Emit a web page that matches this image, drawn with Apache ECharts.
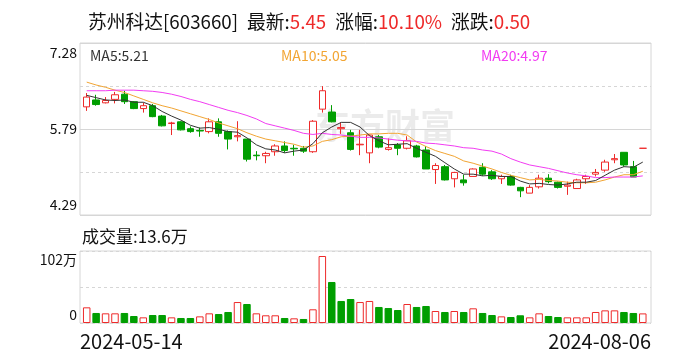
<!DOCTYPE html>
<html><head><meta charset="utf-8">
<script src="https://cdn.jsdelivr.net/npm/echarts@6/dist/echarts.min.js"></script>
<style>html,body{margin:0;padding:0;background:#fff}#c{width:688px;height:360px}</style>
</head><body><div id="c"></div>
<script>
const dates = ['2024-05-14','2024-05-15','2024-05-16','2024-05-17','2024-05-20','2024-05-21','2024-05-22','2024-05-23','2024-05-24','2024-05-27','2024-05-28','2024-05-29','2024-05-30','2024-05-31',
'2024-06-03','2024-06-04','2024-06-05','2024-06-06','2024-06-07','2024-06-11','2024-06-12','2024-06-13','2024-06-14','2024-06-17','2024-06-18','2024-06-19','2024-06-20','2024-06-21','2024-06-24','2024-06-25','2024-06-26','2024-06-27','2024-06-28',
'2024-07-01','2024-07-02','2024-07-03','2024-07-04','2024-07-05','2024-07-08','2024-07-09','2024-07-10','2024-07-11','2024-07-12','2024-07-15','2024-07-16','2024-07-17','2024-07-18','2024-07-19','2024-07-22','2024-07-23','2024-07-24','2024-07-25','2024-07-26','2024-07-29','2024-07-30','2024-07-31',
'2024-08-01','2024-08-02','2024-08-05','2024-08-06'];
const openP  = [6.17,6.29,6.24,6.30,6.39,6.26,6.14,6.19,6.01,5.88,5.91,5.79,5.76,5.74,5.91,5.74,5.65,5.61,5.33,5.32,5.39,5.49,5.45,5.45,5.39,6.13,6.08,5.79,5.72,5.51,5.37,5.65,5.43,5.51,5.45,5.49,5.42,5.08,5.13,4.92,4.90,4.96,5.12,5.04,4.92,4.96,4.77,4.67,4.78,4.93,4.86,4.79,4.75,4.92,5.00,5.07,5.25,5.38,5.13,5.45];
const closeP = [6.34,6.21,6.28,6.38,6.26,6.14,6.19,6.00,5.84,5.89,5.77,5.74,5.75,5.91,5.71,5.61,5.67,5.26,5.32,5.36,5.49,5.41,5.44,5.40,5.92,6.45,5.91,5.81,5.43,5.52,5.68,5.47,5.46,5.45,5.58,5.30,5.09,5.15,4.90,5.03,4.85,5.09,5.00,4.92,4.96,4.81,4.71,4.77,4.93,4.87,4.77,4.81,4.90,4.96,5.03,5.21,5.27,5.16,4.95,5.45];
const lowP   = [6.10,6.19,6.23,6.23,6.22,6.13,6.07,5.99,5.83,5.68,5.76,5.72,5.65,5.71,5.65,5.43,5.57,5.22,5.24,5.19,5.32,5.37,5.32,5.37,5.37,6.07,5.90,5.70,5.41,5.33,5.19,5.45,5.41,5.33,5.43,5.29,5.09,4.83,4.89,4.77,4.80,4.96,4.97,4.90,4.83,4.80,4.60,4.67,4.75,4.84,4.75,4.64,4.75,4.83,4.96,5.04,5.19,5.13,4.95,5.45];
const highP  = [6.41,6.38,6.34,6.43,6.45,6.27,6.24,6.22,6.03,5.91,5.92,5.83,5.81,5.97,5.97,5.76,5.92,5.61,5.40,5.39,5.52,5.57,5.51,5.49,5.94,6.53,6.20,5.90,5.77,5.77,5.69,5.68,5.62,5.54,5.66,5.51,5.49,5.19,5.16,5.04,4.99,5.10,5.19,5.07,4.99,4.99,4.78,4.81,4.99,5.00,4.87,4.87,4.92,4.99,5.09,5.25,5.35,5.38,5.23,5.45];
const volume = [22.2,14.2,13.7,13.7,14.2,9.9,8.0,11.3,11.3,8.0,7.1,7.1,9.4,13.7,12.7,15.6,29.7,26.9,13.7,10.9,10.9,7.1,6.6,5.7,19.4,94.9,58.1,31.2,34.0,29.7,31.2,22.7,21.2,18.4,26.9,22.7,24.1,17.0,15.6,17.0,15.6,20.8,14.2,11.3,9.4,8.5,10.9,8.0,13.7,9.9,8.5,8.0,8.0,8.0,15.6,17.9,17.9,15.6,14.2,13.6];
const ma5  = [6.37,6.33,6.29,6.28,6.29,6.25,6.25,6.19,6.09,6.01,5.94,5.85,5.80,5.81,5.78,5.74,5.73,5.63,5.51,5.44,5.42,5.37,5.40,5.42,5.53,5.72,5.82,5.90,5.90,5.82,5.67,5.58,5.51,5.52,5.53,5.45,5.38,5.31,5.20,5.09,5.00,5.00,4.97,4.98,4.96,4.96,4.88,4.83,4.84,4.82,4.81,4.83,4.86,4.86,4.89,4.98,5.07,5.13,5.12,5.21];
const ma10 = [6.60,6.55,6.51,6.46,6.42,6.36,6.30,6.24,6.19,6.15,6.10,6.05,6.00,5.95,5.89,5.84,5.79,5.72,5.66,5.61,5.58,5.55,5.52,5.47,5.49,5.57,5.60,5.65,5.66,5.68,5.70,5.70,5.71,5.71,5.68,5.56,5.48,5.41,5.36,5.31,5.23,5.19,5.14,5.09,5.03,4.98,4.94,4.90,4.91,4.89,4.88,4.86,4.85,4.85,4.86,4.90,4.95,4.99,4.99,5.05];
const ma20 = [6.45,6.45,6.45,6.46,6.46,6.46,6.45,6.44,6.42,6.39,6.35,6.30,6.26,6.21,6.16,6.11,6.07,6.02,5.96,5.88,5.84,5.80,5.76,5.71,5.69,5.71,5.69,5.68,5.66,5.64,5.64,5.63,5.61,5.59,5.58,5.57,5.54,5.53,5.51,5.49,5.46,5.45,5.42,5.40,5.35,5.27,5.21,5.16,5.13,5.10,5.06,5.02,4.99,4.97,4.94,4.94,4.95,4.95,4.95,4.97];
const priceTicks = ['4.29','','5.79','','7.28'];
const volTicks = ['0','','102万'];
const stockName = '苏州科达', stockCode = '603660';
const latestPrice = '5.45', changePct = '10.10%', changeAmt = '0.50';

const RED = '#ee2a2a', GREEN = '#009e00';
const FONT = "'Noto Sans CJK SC','Noto Sans',sans-serif";
const MA5C = '#333333', MA10C = '#f2a533', MA20C = '#f23cf2';
const GRIDC = '#d6d6d6';

const kData = dates.map((d, i) => [openP[i], closeP[i], lowP[i], highP[i]]);
const volData = volume.map((v, i) => {
  const up = i === 0 ? closeP[i] >= openP[i] : closeP[i] >= closeP[i - 1];
  return { value: v, itemStyle: up ? { color: '#fff', borderColor: RED, borderWidth: 1 } : { color: GREEN, borderColor: GREEN, borderWidth: 1 } };
});
const last = dates.length - 1;

const chart = echarts.init(document.getElementById('c'), null, { renderer: 'canvas' });
chart.setOption({
  animation: false,
  backgroundColor: '#fff',
  title: {
    left: 88, top: 11, padding: 0,
    text: '{k|' + stockName + '[' + stockCode + ']}{g|最新:}{v|' + latestPrice + '}{g|涨幅:}{v|' + changePct + '}{g|涨跌:}{v|' + changeAmt + '}',
    textStyle: { fontWeight: 'normal', rich: {
      k: { fontSize: 18.75, fontFamily: FONT, fontWeight: 'normal', color: '#111', lineHeight: 22 },
      g: { fontSize: 18.75, fontFamily: FONT, fontWeight: 'normal', color: '#111', lineHeight: 22, padding: [0, 0, 0, 9] },
      v: { fontSize: 18.75, fontFamily: FONT, fontWeight: 'normal', color: RED, lineHeight: 22 }
    } }
  },
  grid: [
    { left: 82, right: 40.5, top: 43, height: 172 },
    { left: 82, right: 40.5, top: 251, height: 72 },
    { left: 80, width: 571, top: 43, height: 172, show: true, borderColor: GRIDC, borderWidth: 1 },
    { left: 80, width: 571, top: 251, height: 72, show: true, borderColor: GRIDC, borderWidth: 1 }
  ],
  xAxis: [
    { type: 'category', gridIndex: 0, data: dates, show: false, boundaryGap: true },
    { type: 'category', gridIndex: 1, data: dates, show: false, boundaryGap: true },
    { type: 'value', gridIndex: 2, min: 0, max: 1, show: false },
    { type: 'category', gridIndex: 3, data: dates, boundaryGap: false,
      axisLine: { show: false }, axisTick: { show: false }, splitLine: { show: false },
      axisLabel: { interval: (i) => i === 0, align: 'left', fontSize: 20, fontFamily: FONT, color: '#111', margin: 8 } },
    { type: 'category', gridIndex: 3, data: dates, boundaryGap: false, position: 'bottom',
      axisLine: { show: false }, axisTick: { show: false }, splitLine: { show: false },
      axisLabel: { interval: (i) => i === last, showMinLabel: false, align: 'right', fontSize: 20, fontFamily: FONT, color: '#111', margin: 8 } }
  ],
  yAxis: [
    { type: 'value', gridIndex: 0, min: 4.29, max: 7.28, show: false },
    { type: 'value', gridIndex: 1, min: 0, max: 102, show: false },
    { type: 'value', gridIndex: 2, min: 0, max: 4, interval: 1,
      axisLine: { show: false }, axisTick: { show: false },
      splitLine: { lineStyle: { color: GRIDC, type: [3, 3], width: 1 } },
      axisLabel: { margin: 3, color: '#111', fontSize: 14, fontFamily: FONT,
        formatter: (v) => { const t = priceTicks[v]; if (!t) return ''; return v === 4 ? '{t|' + t + '}' : (v === 0 ? '{b|' + t + '}' : '{m|' + t + '}'); },
        rich: { t: { padding: [20, 0, 0, 0], fontSize: 14, fontFamily: FONT, color: '#111' }, b: { padding: [0, 0, 20, 0], fontSize: 14, fontFamily: FONT, color: '#111' }, m: { fontSize: 14, fontFamily: FONT, color: '#111' } } } },
    { type: 'value', gridIndex: 2, min: 0, max: 2, interval: 1, position: 'left',
      axisLine: { show: false }, axisTick: { show: false }, axisLabel: { show: false },
      splitLine: { lineStyle: { color: GRIDC, type: 'solid', width: 1 } } },
    { type: 'value', gridIndex: 3, min: 0, max: 2, interval: 1,
      axisLine: { show: false }, axisTick: { show: false },
      splitLine: { lineStyle: { color: GRIDC, type: [3, 3], width: 1 } },
      axisLabel: { margin: 3, color: '#111', fontSize: 14, fontFamily: FONT,
        formatter: (v) => { const t = volTicks[v]; if (!t) return ''; return v === 2 ? '{t|' + t + '}' : '{b|' + t + '}'; },
        rich: { t: { padding: [18, 0, 0, 0], fontSize: 14, fontFamily: FONT, color: '#111' }, b: { padding: [0, 0, 16, 0], fontSize: 14, fontFamily: FONT, color: '#111' } } } }
  ],
  graphic: [
    { type: 'text', left: 315, top: 108, z: 0, silent: true,
      style: { text: '东方财富', font: 'bold 35px ' + FONT, fill: 'rgba(0,0,0,0.08)' } },
    { type: 'text', left: 90, top: 49, style: { text: 'MA5:' + ma5[last].toFixed(2), font: '14px ' + FONT, fill: MA5C } },
    { type: 'text', left: 281, top: 49, style: { text: 'MA10:' + ma10[last].toFixed(2), font: '14px ' + FONT, fill: MA10C } },
    { type: 'text', left: 481, top: 49, style: { text: 'MA20:' + ma20[last].toFixed(2), font: '14px ' + FONT, fill: MA20C } },
    { type: 'text', left: 82, top: 228, style: { text: '成交量:' + volume[last].toFixed(1) + '万', font: '17px ' + FONT, fill: '#111' } }
  ],
  series: [
    { type: 'candlestick', xAxisIndex: 0, yAxisIndex: 0, data: kData, barWidth: 7,
      itemStyle: { color: '#fff', color0: GREEN, borderColor: RED, borderColor0: GREEN, borderColorDoji: RED, borderWidth: 1 } },
    { type: 'line', xAxisIndex: 0, yAxisIndex: 0, data: ma5, symbol: 'none', z: 5, lineStyle: { color: MA5C, width: 1 } },
    { type: 'line', xAxisIndex: 0, yAxisIndex: 0, data: ma10, symbol: 'none', z: 4, lineStyle: { color: MA10C, width: 1 } },
    { type: 'line', xAxisIndex: 0, yAxisIndex: 0, data: ma20, symbol: 'none', z: 4, lineStyle: { color: MA20C, width: 1 } },
    { type: 'bar', xAxisIndex: 1, yAxisIndex: 1, data: volData, barWidth: 7.5 }
  ]
});
</script></body></html>
